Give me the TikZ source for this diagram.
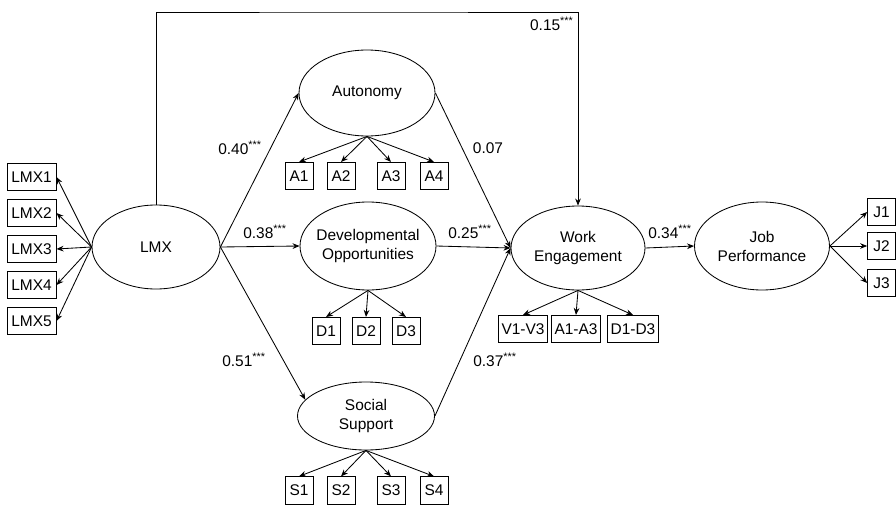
\documentclass[tikz,border=0pt]{standalone}
\usepackage{fontspec}
\setmainfont{Liberation Sans}
\usetikzlibrary{arrows.meta, positioning, shapes.geometric}

\begin{document}
\begin{tikzpicture}[font=\fontsize{11}{13.5}\selectfont,>={Stealth[length=5pt,width=4pt]},line width=0.6pt,
     lat/.style={draw,ellipse,align=center,inner xsep=-3pt,inner ysep=0pt,minimum width=3.4cm,minimum height=2.15cm},
     obs/.style={draw,rectangle,inner sep=2pt,minimum width=0.7cm,minimum height=0.68cm},
     coef/.style={inner sep=0pt}]
    \useasboundingbox (0,0) rectangle (22.4,12.6);
    % latent variables
    \node[lat,minimum width=3.2cm,minimum height=2.1cm] (lmx) at (3.9,6.425) {LMX};
    \node[lat] (aut) at (9.175,10.275) {Autonomy};
    \node[lat,minimum height=2.2cm] (dev) at (9.2,6.45) {Developmental\\Opportunities};
    \node[lat,minimum width=3.425cm,minimum height=1.7cm] (soc) at (9.15,2.2) {Social\\Support};
    \node[lat,minimum width=3.35cm,minimum height=2.1cm] (we) at (14.45,6.4) {Work\\Engagement};
    \node[lat,minimum width=3.375cm,minimum height=2.2cm] (jp) at (19.05,6.45) {Job\\Performance};
    % indicators
    \node[obs,minimum width=1.225cm] (lmx1) at (0.79,8.175) {LMX1};
    \node[obs,minimum width=1.225cm] (lmx2) at (0.79,7.275) {LMX2};
    \node[obs,minimum width=1.225cm] (lmx3) at (0.79,6.375) {LMX3};
    \node[obs,minimum width=1.225cm] (lmx4) at (0.79,5.475) {LMX4};
    \node[obs,minimum width=1.225cm] (lmx5) at (0.79,4.575) {LMX5};
    \node[obs] (a1) at (7.475,8.2) {A1};
    \node[obs] (a2) at (8.525,8.2) {A2};
    \node[obs] (a3) at (9.775,8.2) {A3};
    \node[obs] (a4) at (10.85,8.2) {A4};
    \node[obs] (d1) at (8.15,4.325) {D1};
    \node[obs] (d2) at (9.15,4.325) {D2};
    \node[obs] (d3) at (10.15,4.325) {D3};
    \node[obs] (s1) at (7.475,0.34) {S1};
    \node[obs] (s2) at (8.525,0.34) {S2};
    \node[obs] (s3) at (9.775,0.34) {S3};
    \node[obs] (s4) at (10.85,0.34) {S4};
    \node[obs,minimum width=1.2cm] (wv) at (13.075,4.375) {V1-V3};
    \node[obs,minimum width=1.2cm] (wa) at (14.4,4.375) {A1-A3};
    \node[obs,minimum width=1.2cm] (wd) at (15.825,4.375) {D1-D3};
    \node[obs] (j1) at (22.04,7.3) {J1};
    \node[obs] (j2) at (22.04,6.45) {J2};
    \node[obs] (j3) at (22.04,5.525) {J3};
    % loadings
    \draw[->] (lmx.west) -- (lmx1.east);
    \draw[->] (lmx.west) -- (lmx2.east);
    \draw[->] (lmx.west) -- (lmx3.east);
    \draw[->] (lmx.west) -- (lmx4.east);
    \draw[->] (lmx.west) -- (lmx5.east);
    \draw[->] (aut.south) -- (a1.north);
    \draw[->] (aut.south) -- (a2.north);
    \draw[->] (aut.south) -- (a3.north);
    \draw[->] (aut.south) -- (a4.north);
    \draw[->] (dev.south) -- (d1.north);
    \draw[->] (dev.south) -- (d2.north);
    \draw[->] (dev.south) -- (d3.north);
    \draw[->] (soc.south) -- (s1.north);
    \draw[->] (soc.south) -- (s2.north);
    \draw[->] (soc.south) -- (s3.north);
    \draw[->] (soc.south) -- (s4.north);
    \draw[->] (we.south) -- (wv.north);
    \draw[->] (we.south) -- (wa.north);
    \draw[->] (we.south) -- (wd.north);
    \draw[->] (jp.east) -- (j1.west);
    \draw[->] (jp.east) -- (j2.west);
    \draw[->] (jp.east) -- (j3.west);
    % structural paths
    \coordinate (ceil) at (9,12.3);
    \draw[->] (lmx.east) -- (aut.west);
    \draw[->] (lmx.east) -- (dev.west);
    \draw[->] (lmx.east) -- (soc.165);
    \draw[->] (aut.east) -- (we.west);
    \draw[->] (dev.east) -- (we.west);
    \draw[->] (soc.east) -- (we.west);
    \draw[->] (we.east) -- (jp.west);
    \draw[->] (lmx.north) |- (ceil) -| (we.north);
    % coefficients
    \node[coef,anchor=east] (c15) at (14.35,12.0) {0.15\textsuperscript{***}};
    \node[coef] (c40) at (6.0,8.9) {0.40\textsuperscript{***}};
    \node[coef] (c38) at (6.625,6.8) {0.38\textsuperscript{***}};
    \node[coef] (c51) at (6.1,3.6) {0.51\textsuperscript{***}};
    \node[coef] (c07) at (12.2,8.9) {0.07};
    \node[coef] (c25) at (11.75,6.8) {0.25\textsuperscript{***}};
    \node[coef] (c37) at (12.375,3.6) {0.37\textsuperscript{***}};
    \node[coef] (c34) at (16.75,6.8) {0.34\textsuperscript{***}};
  \end{tikzpicture}
\end{document}
